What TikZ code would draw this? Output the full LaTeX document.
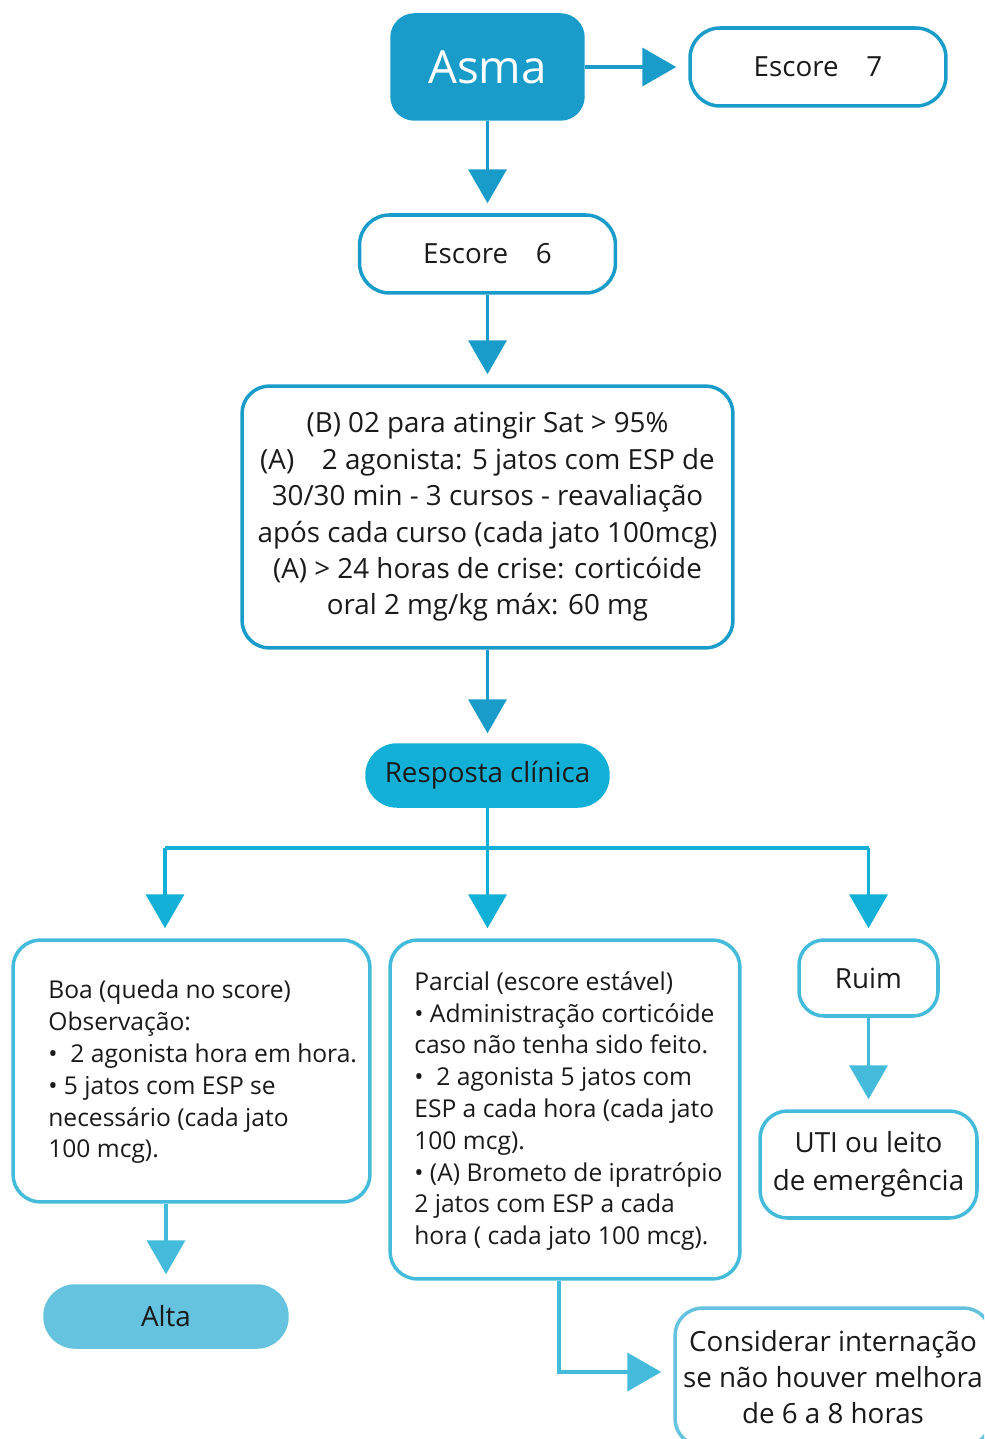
\documentclass[tikz,border=0pt]{standalone}
\usepackage{fontspec}
\setmainfont{Open Sans}
\usetikzlibrary{arrows.meta}
\definecolor{azulesc}{HTML}{1A9CCB}
\definecolor{azulmed}{HTML}{12B0D6}
\definecolor{azulcla}{HTML}{45BBDB}
\definecolor{azulalta}{HTML}{65C3DF}
\definecolor{texto}{HTML}{1A1A1A}
\begin{document}
\begin{tikzpicture}[x=0.02cm,y=-0.02cm,
    caixa/.style={draw=azulesc,line width=2pt,rounded corners=0.55cm,text=texto,
      font=\fontsize{15.8}{20.7}\selectfont,align=center,inner sep=0pt},
    caixab/.style={caixa,draw=azulcla},
    pilula/.style={caixa,rounded corners=0.6cm,minimum height=1.22cm},
    lista/.style={anchor=west,align=left,inner sep=0pt,text=texto,
      font=\fontsize{14}{18.1}\selectfont},
    seta/.style={line width=2.2pt,-{Triangle[width=0.76cm,length=0.68cm]},shorten >=0.2cm},
    linha/.style={line width=2.2pt}]
  \useasboundingbox (0,0) rectangle (984,1439);
  \clip (0,0) rectangle (984,1439);
  \node[caixa,fill=azulesc,text=white,font=\fontsize{26}{32}\selectfont,
    minimum width=3.82cm,minimum height=2.08cm,rounded corners=0.45cm] (asma) at (487.5,67) {Asma};
  \node[caixa,minimum width=5.12cm,minimum height=1.56cm,rounded corners=0.6cm] (esc7) at (818,67) {Escore\quad 7};
  \node[caixa,minimum width=5.12cm,minimum height=1.56cm,rounded corners=0.6cm] (esc6) at (487.5,254) {Escore\quad 6};
  \node[caixa,minimum width=9.82cm,minimum height=5.24cm] (condu) at (487.5,517)
    {(B) 02 para atingir Sat > 95\%\\(A)\quad 2 agonista: 5 jatos com ESP de\\30/30 min - 3 cursos - reavaliação\\após cada curso (cada jato 100mcg)\\(A) > 24 horas de crise: corticóide\\oral 2 mg/kg máx: 60 mg};
  \node[pilula,draw=azulmed,fill=azulmed,minimum width=4.82cm] (resp) at (487.5,775.5) {Resposta clínica};
  \coordinate (jun) at (487.5,848);
  \coordinate (jboa) at (165,848);
  \coordinate (jruim) at (868.5,848);
  \node[caixab,minimum width=7.14cm,minimum height=5.24cm] (boa) at (191.5,1071) {};
  \node[lista] (boatxt) at (48,1072)
    {Boa (queda no score)\\Observação:\\•\ \ 2 agonista hora em hora.\\• 5 jatos com ESP se\\necessário (cada jato\\100 mcg).};
  \node[caixab,minimum width=7.0cm,minimum height=6.78cm] (parc) at (565,1109.5) {};
  \node[lista] (parctxt) at (414,1111)
    {Parcial (escore estável)\\• Administração corticóide\\caso não tenha sido feito.\\•\ \ 2 agonista 5 jatos com\\ESP a cada hora (cada jato\\100 mcg).\\• (A) Brometo de ipratrópio\\2 jatos com ESP a cada\\hora ( cada jato 100 mcg).};
  \node[caixab,minimum width=2.78cm,minimum height=1.52cm,rounded corners=0.5cm] (ruim) at (868.5,978) {Ruim};
  \node[caixab,font=\fontsize{15.8}{21.5}\selectfont,minimum width=4.34cm,minimum height=2.14cm] (uti) at (868.5,1164.5) {UTI ou leito\\de emergência};
  \node[pilula,draw=azulalta,fill=azulalta,minimum width=4.84cm] (alta) at (166,1316.5) {Alta};
  \node[caixab,draw=azulalta,minimum width=6.32cm,minimum height=2.76cm] (cons) at (833,1377)
    {Considerar internação\\se não houver melhora\\de 6 a 8 horas};
  \coordinate (dobra) at (559,1372);
  \draw[seta,azulesc,shorten >=0.24cm] (asma) -- (esc7);
  \draw[seta,azulesc] (asma) -- (esc6);
  \draw[seta,azulesc] (esc6) -- (condu);
  \draw[seta,azulesc] (condu) -- (resp);
  \draw[linha,azulmed] (resp) -- (jun);
  \draw[linha,azulmed] (jboa) -- (jruim);
  \draw[seta,azulmed] (jboa) -- (jboa |- boa.north);
  \draw[seta,azulmed] (jun) -- (jun |- parc.north);
  \draw[seta,azulmed] (jruim) -- (ruim);
  \draw[seta,azulcla] (ruim) -- (uti);
  \draw[seta,azulcla] (alta.north |- boa.south) -- (alta);
  \draw[seta,azulcla,shorten >=0.24cm] (parc.south -| dobra) -- (dobra) -- (cons.west |- dobra);
\end{tikzpicture}
\end{document}
